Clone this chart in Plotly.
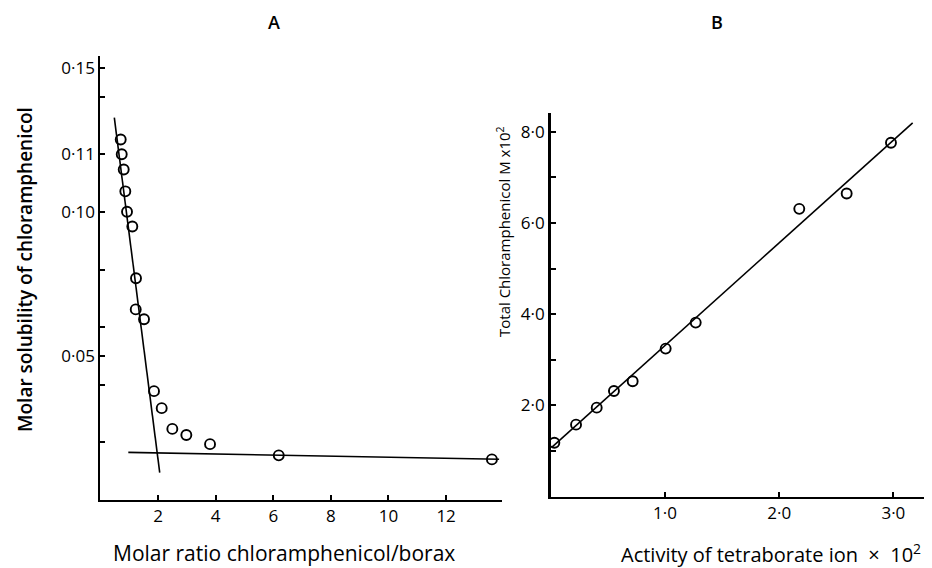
import plotly.graph_objects as go

# ---------------- Data: panel A ----------------
ratio_a = [0.705, 0.740, 0.809, 0.865, 0.924, 1.108, 1.236, 1.226, 1.514,
           1.861, 2.128, 2.497, 2.983, 3.806, 6.191, 13.59]
solub_a = [0.1252, 0.1201, 0.1148, 0.1072, 0.1001, 0.0950, 0.0770, 0.0662, 0.0628,
           0.0378, 0.0319, 0.0247, 0.0226, 0.0194, 0.0155, 0.0141]
steep_x = [0.483, 2.059]
steep_y = [0.1328, 0.0095]
flat_x = [0.969, 13.84]
flat_y = [0.01655, 0.01413]
a_tickvals_y = [0.05, 0.10, 0.12, 0.15]
a_ticktext_y = ["0·05", "0·10", "0·11", "0·15"]
a_minor_y = [0.02, 0.04, 0.06, 0.08, 0.14]
a_tickvals_x = [2, 4, 6, 8, 10, 12]

# ---------------- Data: panel B ----------------
act_b = [0.031, 0.221, 0.402, 0.553, 0.717, 1.006, 1.269, 2.176, 2.591, 2.979]
total_b = [1.184, 1.579, 1.952, 2.318, 2.529, 3.246, 3.816, 6.309, 6.645, 7.757]
fit_b_x = [0.008, 3.169]
fit_b_y = [1.081, 8.195]
b_tickvals_y = [2, 4, 6, 8]
b_ticktext_y = ["2·0", "4·0", "6·0", "8·0"]
b_minor_y = [1, 3, 5, 7]
b_tickvals_x = [1, 2, 3]
b_ticktext_x = ["1·0", "2·0", "3·0"]

# page is 932x568; the html body adds an 8px margin at top-left
W, H = 932, 568
OX, OY = 8, 8
FW, FH = W - OX, H - OY
FONT = "Open Sans"


def fx(p):
    return (p - OX) / FW


def fy(p):
    return 1 - (p - OY) / FH


fig = go.Figure()

marker = dict(symbol="circle-open", size=10, color="black", line=dict(width=1.9, color="black"))
line = dict(color="black", width=1.6)

fig.add_trace(go.Scatter(x=steep_x, y=steep_y, mode="lines", line=line, xaxis="x", yaxis="y"))
fig.add_trace(go.Scatter(x=flat_x, y=flat_y, mode="lines", line=line, xaxis="x", yaxis="y"))
fig.add_trace(go.Scatter(x=ratio_a, y=solub_a, mode="markers", marker=marker, xaxis="x", yaxis="y"))

fig.add_trace(go.Scatter(x=fit_b_x, y=fit_b_y, mode="lines", line=line, xaxis="x2", yaxis="y2"))
fig.add_trace(go.Scatter(x=act_b, y=total_b, mode="markers", marker=marker, xaxis="x2", yaxis="y2"))

axis_common = dict(showline=True, linecolor="black", linewidth=2, showgrid=False, zeroline=False,
                   ticks="inside", ticklen=5, tickwidth=1.5, tickcolor="black",
                   tickfont=dict(family=FONT, size=17, color="black"), fixedrange=True)
minor_common = dict(ticks="inside", ticklen=5, tickwidth=1.5, tickcolor="black", showgrid=False)

fig.update_layout(
    width=FW, height=FH,
    margin=dict(l=0, r=0, t=0, b=0),
    paper_bgcolor="white", plot_bgcolor="white",
    showlegend=False,
    xaxis=dict(domain=[fx(100.4), fx(501.7)], range=[0, 13.93], anchor="y",
               tickmode="array", tickvals=a_tickvals_x, **axis_common),
    yaxis=dict(domain=[fy(500), fy(56)], range=[0, 0.1542], anchor="x",
               tickmode="array", tickvals=a_tickvals_y, ticktext=a_ticktext_y,
               minor=dict(tickmode="array", tickvals=a_minor_y, **minor_common), **axis_common),
    xaxis2=dict(domain=[fx(550.8), fx(925)], range=[0, 3.277], anchor="y2",
                tickmode="array", tickvals=b_tickvals_x, ticktext=b_ticktext_x, **axis_common),
    yaxis2=dict(domain=[fy(496.7), fy(113)], range=[0, 8.41], anchor="x2",
                tickmode="array", tickvals=b_tickvals_y, ticktext=b_ticktext_y,
                minor=dict(tickmode="array", tickvals=b_minor_y, **minor_common), **axis_common),
)
fig.layout.yaxis2.linewidth = 2.5

ann_font = dict(family=FONT, color="black")
annotations = [
    dict(text="A", x=fx(274), y=fy(22), font=dict(size=18, weight=600, **ann_font)),
    dict(text="B", x=fx(717), y=fy(22), font=dict(size=18, weight=600, **ann_font)),
    dict(text="Molar solubility of chloramphenicol", x=fx(25), y=fy(270), textangle=-90,
         font=dict(size=19, weight=600, **ann_font)),
    dict(text="Molar ratio chloramphenicol/borax", x=fx(284), y=fy(553),
         font=dict(size=21, **ann_font)),
    dict(text="Total Chloramphenicol M x10<sup>2</sup>", x=fx(503), y=fy(232), textangle=-90,
         font=dict(size=15, **ann_font)),
    dict(text="Activity of tetraborate ion \u00a0×\u00a0 10<sup>2</sup>", x=fx(771), y=fy(553),
         font=dict(size=20, **ann_font)),
]
for a in annotations:
    a.update(xref="paper", yref="paper", showarrow=False, xanchor="center", yanchor="middle")
fig.update_layout(annotations=annotations)

fig.write_html("out.html")
